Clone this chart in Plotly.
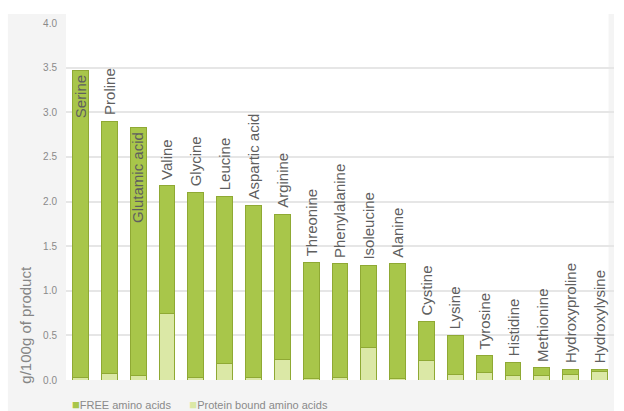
import plotly.graph_objects as go

amino_acids = [
    "Serine", "Proline", "Glutamic acid", "Valine", "Glycine", "Leucine",
    "Aspartic acid", "Arginine", "Threonine", "Phenylalanine", "Isoleucine",
    "Alanine", "Cystine", "Lysine", "Tyrosine", "Histidine", "Methionine",
    "Hydroxyproline", "Hydroxylysine",
]
protein_bound = [0.03, 0.07, 0.05, 0.74, 0.03, 0.19, 0.03, 0.23, 0.02, 0.03,
                 0.36, 0.02, 0.22, 0.06, 0.08, 0.05, 0.05, 0.06, 0.09]
free = [3.44, 2.83, 2.78, 1.44, 2.07, 1.87, 1.93, 1.63, 1.30, 1.27,
        0.92, 1.28, 0.43, 0.44, 0.19, 0.15, 0.09, 0.06, 0.03]
inside_labels = ["Serine", "Glutamic acid"]

DARK = "#a8c64a"
LIGHT = "#dbe8a6"
EDGE = "#8fa934"
FONT = "Arial, Liberation Sans, sans-serif"

fig = go.Figure()
fig.add_trace(go.Bar(
    x=amino_acids, y=protein_bound, name="Protein bound amino acids",
    marker=dict(color=LIGHT, line=dict(color=EDGE, width=1)),
))
fig.add_trace(go.Bar(
    x=amino_acids, y=free, name="FREE amino acids",
    marker=dict(color=DARK, line=dict(color=EDGE, width=1)),
))

# rotated labels over (or inside) each stacked bar
totals = [b + f for b, f in zip(protein_bound, free)]
for name, tot in zip(amino_acids, totals):
    inside = name in inside_labels
    fig.add_annotation(
        x=name, y=tot, text=name, textangle=-90, showarrow=False,
        yanchor="top" if inside else "bottom",
        yshift=-3 if inside else 4,
        font=dict(family=FONT, size=15, color="#5f5f5f"),
    )

fig.add_annotation(
    xref="paper", yref="paper", x=-0.073, y=0.155, xanchor="center", yanchor="middle",
    text="g/100g of product", textangle=-90, showarrow=False,
    font=dict(family=FONT, size=15, color="#858585"),
)

# legend drawn as text under the plot
fig.add_annotation(
    xref="paper", yref="paper", x=0.008, y=-0.068, xanchor="left", yanchor="middle",
    showarrow=False,
    text=(f"<span style='color:{DARK};font-size:13px'>■</span>FREE amino acids"
          f"      <span style='color:{LIGHT};font-size:13px'>■</span>Protein bound amino acids"),
    font=dict(family=FONT, size=11, color="#8a8a8a"),
)

fig.update_layout(
    width=624, height=411,
    barmode="stack", bargap=0.45,
    paper_bgcolor="white", plot_bgcolor="white",
    margin=dict(l=66, r=10, t=23, b=31),
    font=dict(family=FONT, size=10, color="#777777"),
    showlegend=False,
    shapes=[
        dict(type="rect", xref="paper", yref="paper", x0=-0.106, x1=1.0,
             y0=-0.09, y1=1.025, fillcolor="#f4f4f4", line=dict(width=0), layer="below"),
        dict(type="rect", xref="paper", yref="paper", x0=0, x1=0.99,
             y0=0, y1=1.025, fillcolor="white", line=dict(width=0), layer="below"),
    ],
    xaxis=dict(showticklabels=False, showgrid=False, zeroline=False, showline=False),
    yaxis=dict(
        range=[0, 4.0], dtick=0.5, tickformat=".1f", automargin=False,
        gridcolor="#e6e6e6", gridwidth=1.5, zeroline=False,
        tickfont=dict(size=10, color="#8a8a8a"), ticklabelstandoff=8,
    ),
)

# drop the default page margin so the figure sits at the window's corner
fig.write_html(
    "out.html",
    config={"displayModeBar": False},
    post_script="document.body.style.margin = '0';",
)
